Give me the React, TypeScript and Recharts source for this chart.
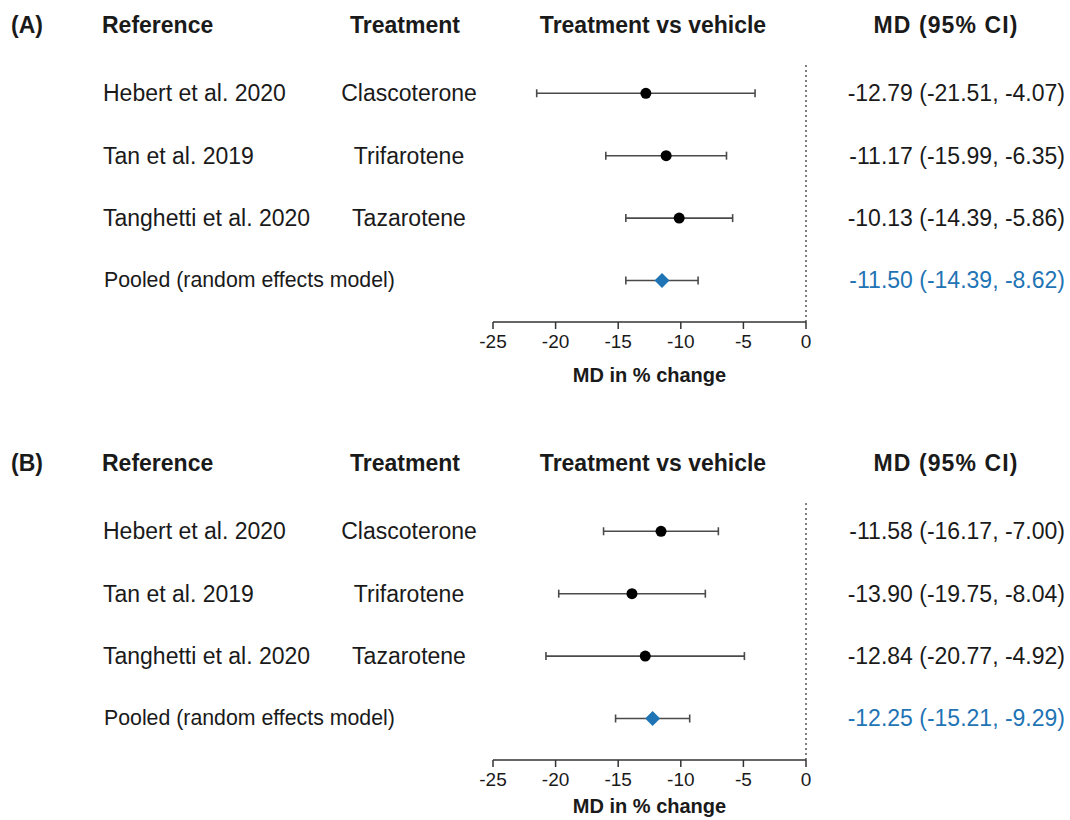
import { ScatterChart, Scatter, XAxis, YAxis, ErrorBar, ReferenceLine } from "recharts";

const references = ["Hebert et al. 2020", "Tan et al. 2019", "Tanghetti et al. 2020", "Pooled (random effects model)"];
const treatments = ["Clascoterone", "Trifarotene", "Tazarotene", ""];
const xTicks = [-25, -20, -15, -10, -5, 0];

const mdA = [-12.79, -11.17, -10.13, -11.5];
const lowA = [-21.51, -15.99, -14.39, -14.39];
const highA = [-4.07, -6.35, -5.86, -8.62];

const mdB = [-11.58, -13.9, -12.84, -12.25];
const lowB = [-16.17, -19.75, -20.77, -15.21];
const highB = [-7.0, -8.04, -4.92, -9.29];

const FONT = "'Liberation Sans', Arial, sans-serif";
const TEXT = "#1a1a1a";
const BLUE = "#1f74b5";

type Row = { row: number; md: number; lo: number; hi: number; err: [number, number]; pooled: boolean };

function buildRows(md: number[], lo: number[], hi: number[]): Row[] {
  return md.map((m, i) => ({
    row: i + 1,
    md: m,
    lo: lo[i],
    hi: hi[i],
    err: [m - lo[i], hi[i] - m],
    pooled: i === references.length - 1,
  }));
}

const fmt = (v: number) => v.toFixed(2);

function RowTick(props: any) {
  const { y, payload, rows } = props;
  const i = payload.value - 1;
  const r: Row = rows[i];
  if (!r) return <g />;
  return (
    <g fontFamily={FONT} fontSize={23} fill={TEXT}>
      <text x={r.pooled ? 104 : 103} y={y} dominantBaseline="central" textAnchor="start" fontSize={r.pooled ? 21.3 : 23}>
        {references[i]}
      </text>
      <text x={409} y={y} dominantBaseline="central" textAnchor="middle">
        {treatments[i]}
      </text>
      <text x={1065} y={y} dominantBaseline="central" textAnchor="end" fill={r.pooled ? BLUE : TEXT}>
        {`${fmt(r.md)} (${fmt(r.lo)}, ${fmt(r.hi)})`}
      </text>
    </g>
  );
}

function Marker(props: any) {
  const { cx, cy, payload } = props;
  if (payload.pooled) {
    const s = 7.5;
    return <path d={`M${cx},${cy - s}L${cx + s},${cy}L${cx},${cy + s}L${cx - s},${cy}Z`} fill={BLUE} />;
  }
  return <circle cx={cx} cy={cy} r={5.5} fill="#000" />;
}

function Header({ top, tag }: { top: number; tag: string }) {
  const base: React.CSSProperties = {
    position: "absolute",
    top: top - 13,
    fontFamily: FONT,
    fontSize: 23,
    fontWeight: "bold",
    color: TEXT,
    lineHeight: "26px",
    whiteSpace: "nowrap",
  };
  return (
    <>
      <div style={{ ...base, left: 11 }}>{tag}</div>
      <div style={{ ...base, left: 102 }}>Reference</div>
      <div style={{ ...base, left: 405, transform: "translateX(-50%)" }}>Treatment</div>
      <div style={{ ...base, left: 653, transform: "translateX(-50%)" }}>Treatment vs vehicle</div>
      <div style={{ ...base, left: 946, transform: "translateX(-50%)", letterSpacing: 1.1 }}>MD (95% CI)</div>
    </>
  );
}

function ForestPanel({ rows, top, height, axisHeight, labelOffset }: { rows: Row[]; top: number; height: number; axisHeight: number; labelOffset: number }) {
  return (
    <div style={{ position: "absolute", left: 0, top }}>
      <ScatterChart width={1070} height={height} margin={{ top: 63, right: 264, bottom: 0, left: 0 }}>
        <XAxis
          type="number"
          dataKey="md"
          domain={[-25, 0]}
          ticks={xTicks}
          height={axisHeight}
          axisLine={{ stroke: "#333", strokeWidth: 1.5 }}
          tickLine={{ stroke: "#333", strokeWidth: 1.5 }}
          tickSize={7}
          tickMargin={6}
          tick={{ fill: TEXT, fontSize: 19, fontFamily: FONT }}
          label={{ value: "MD in % change", position: "insideBottom", offset: labelOffset, fill: TEXT, fontSize: 20, fontWeight: "bold", fontFamily: FONT }}
        />
        <YAxis
          type="number"
          dataKey="row"
          domain={[0.515, 4.665]}
          reversed
          ticks={[1, 2, 3, 4]}
          width={493}
          axisLine={false}
          tickLine={false}
          tick={(p: any) => <RowTick {...p} rows={rows} />}
        />
        <ReferenceLine x={0} stroke="#555" strokeWidth={1.5} strokeDasharray="2 3" />
        <Scatter data={rows} shape={Marker} isAnimationActive={false}>
          <ErrorBar dataKey="err" direction="x" width={4} stroke="#4a4a4a" strokeWidth={1.6} />
        </Scatter>
      </ScatterChart>
    </div>
  );
}

export default function App() {
  const rowsA = buildRows(mdA, lowA, highA);
  const rowsB = buildRows(mdB, lowB, highB);
  return (
    <div style={{ position: "absolute", left: 0, top: 0, width: 1070, height: 820, background: "#fff", overflow: "hidden" }}>
      <Header top={25} tag="(A)" />
      <ForestPanel rows={rowsA} top={0} height={400} axisHeight={78} labelOffset={18} />
      <Header top={463} tag="(B)" />
      <ForestPanel rows={rowsB} top={438} height={382} axisHeight={60} labelOffset={7} />
    </div>
  );
}
